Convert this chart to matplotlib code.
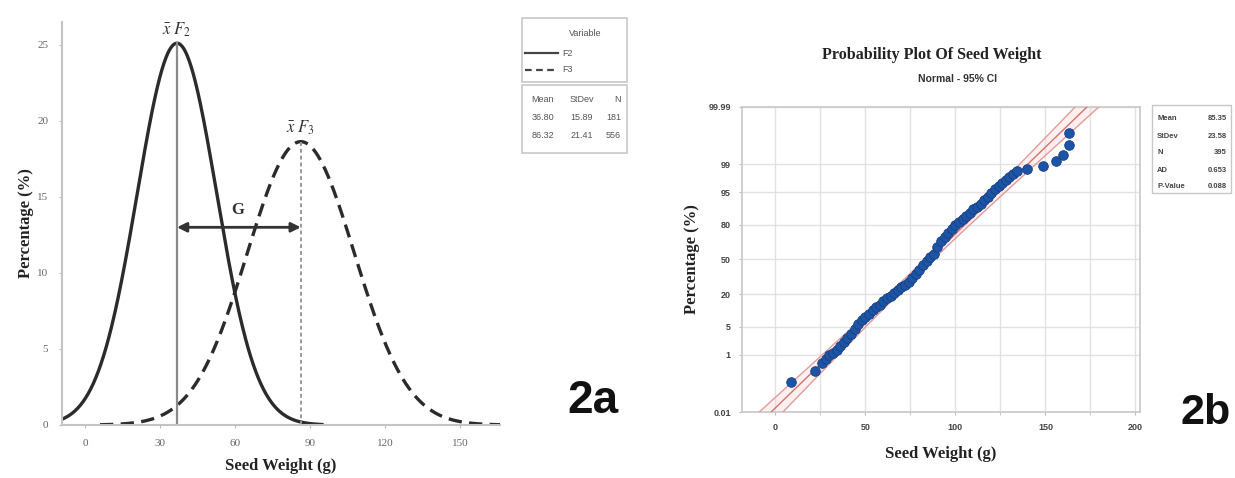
import numpy as np
import matplotlib
matplotlib.use("Agg")
import matplotlib.pyplot as plt
from matplotlib.patches import Rectangle
from matplotlib.lines import Line2D
from statistics import NormalDist

# ---------------- data: panel 2a (fitted normal curves) ----------------
group_labels = ["F2", "F3"]
group_means = [36.80, 86.32]
group_sds = [15.89, 21.41]
group_n = [181, 556]
hist_bin_width = 10            # Minitab "percent" scaling of fitted curves
f2_curve_range = (-9.2, 95.0)
f3_curve_range = (6.0, 167.0)
xticks_a = [0, 30, 60, 90, 120, 150]
yticks_a = [0, 5, 10, 15, 20, 25]

# ---------------- data: panel 2b (normal probability plot) ----------------
pp_weight = [8.7, 22.2, 26, 28, 30, 32, 34, 36, 38, 40, 42, 44, 46, 48, 50, 52, 54,
             56, 58, 60, 62, 64, 66, 68, 70, 72, 74, 76, 78, 80, 82, 84, 86, 88,
             90, 92, 94, 96, 98, 100, 102, 104, 106, 108, 110, 112, 114, 116, 118,
             120, 122, 124, 126, 128, 130, 132, 134, 139.8, 148.7, 156, 159.6, 163, 163.3]
pp_percent = [0.14, 0.32, 0.60, 0.78, 0.99, 1.16, 1.39, 1.70, 2.17, 2.74, 3.44, 4.46,
              5.71, 6.94, 8.08, 9.34, 10.75, 12.10, 13.57, 15.39, 17.11, 18.67, 20.61,
              22.66, 24.83, 27.09, 29.46, 32.64, 35.94, 40.13, 44.43, 48.40, 51.99,
              55.57, 61.79, 67.36, 70.88, 74.22, 77.04, 79.67, 81.86, 83.65, 85.54,
              87.29, 88.88, 90.15, 91.31, 92.51, 93.70, 94.74, 95.64, 96.33, 96.86,
              97.32, 97.78, 98.17, 98.46, 98.64, 98.90, 99.16, 99.46, 99.74, 99.90]
pp_mean = 85.35
pp_sd = 23.58
pp_n = 395
pp_ad = 0.653
pp_pvalue = 0.088
xticks_b = [0, 50, 100, 150, 200]
xgrid_b = [0, 25, 50, 75, 100, 125, 150, 175, 200]
yticks_b = [0.01, 1, 5, 20, 50, 80, 95, 99, 99.99]
ytick_labels_b = ["0.01", "1", "5", "20", "50", "80", "95", "99", "99.99"]

# ---------------- figure ----------------
W, H = 1235, 478
fig = plt.figure(figsize=(W / 100, H / 100), dpi=100)
plt.rcParams["mathtext.fontset"] = "stix"
SERIF = "Liberation Serif"
SANS = "Liberation Sans"


def fx(px):
    return px / W


def fy(py):
    return 1 - py / H


def npdf(x, m, s):
    return np.exp(-0.5 * ((x - m) / s) ** 2) / (s * np.sqrt(2 * np.pi))


# ================= Panel 2a =================
axa = fig.add_axes([fx(62), fy(425), fx(500) - fx(62), fy(22) - fy(425)])
scale = 100 * hist_bin_width
x2 = np.linspace(*f2_curve_range, 400)
x3 = np.linspace(*f3_curve_range, 400)
axa.plot(x2, scale * npdf(x2, group_means[0], group_sds[0]), color="#2b2b2b", lw=2.4,
         solid_capstyle="round")
axa.plot(x3, scale * npdf(x3, group_means[1], group_sds[1]), color="#2b2b2b", lw=2.4,
         ls=(0, (4, 2.2)))
peak2 = scale * npdf(group_means[0], group_means[0], group_sds[0])
peak3 = scale * npdf(group_means[1], group_means[1], group_sds[1])
axa.plot([group_means[0]] * 2, [0, peak2], color="#8a8a8a", lw=1.6)
axa.plot([group_means[1]] * 2, [0, peak3], color="#9a9a9a", lw=1.4, ls=(0, (2, 1.5)))
axa.annotate("", xy=(group_means[0], 13.0), xytext=(group_means[1], 13.0),
             arrowprops=dict(arrowstyle="<|-|>", color="#333333", lw=2.0,
                             mutation_scale=14, shrinkA=0, shrinkB=0))
axa.text((group_means[0] + group_means[1]) / 2 - 0.5, 13.6, "G", ha="center", va="bottom",
         fontsize=12, fontweight="bold", family=SERIF, color="#333333")
axa.text(group_means[0], peak2 + 0.3, r"$\bar{x}\ F_2$", ha="center", va="bottom",
         fontsize=12, color="#333333")
axa.text(group_means[1], peak3 + 0.3, r"$\bar{x}\ F_3$", ha="center", va="bottom",
         fontsize=12, color="#333333")
axa.set_xlim(-9.2, 166)
axa.set_ylim(0, 26.5)
axa.set_xticks(xticks_a)
axa.set_yticks(yticks_a)
axa.set_xticklabels([str(v) for v in xticks_a], family=SERIF, fontsize=8, color="#666666")
axa.set_yticklabels([str(v) for v in yticks_a], family=SERIF, fontsize=8, color="#666666")
axa.tick_params(length=2, color="#bbbbbb", pad=8)
for s in ["top", "right"]:
    axa.spines[s].set_visible(False)
for s in ["left", "bottom"]:
    axa.spines[s].set_color("#c4c4c4")
    axa.spines[s].set_linewidth(1.5)
axa.set_xlabel("Seed Weight (g)", family=SERIF, fontsize=12, fontweight="bold",
               color="#222222", labelpad=7)
axa.set_ylabel("Percentage (%)", family=SERIF, fontsize=12, fontweight="bold",
               color="#222222", labelpad=2)

# legend box 2a
fig.patches.append(Rectangle((fx(522), fy(82)), fx(627) - fx(522), fy(18) - fy(82),
                             transform=fig.transFigure, fill=False, ec="#c8c8c8", lw=1.2))
fig.patches.append(Rectangle((fx(522), fy(153)), fx(627) - fx(522), fy(85) - fy(153),
                             transform=fig.transFigure, fill=False, ec="#c8c8c8", lw=1.2))
fig.text(fx(585), fy(33), "Variable", ha="center", va="center", fontsize=6.5,
         family=SANS, color="#555555")
for i, (lab, ls) in enumerate(zip(group_labels, ["-", (0, (3, 2))])):
    yy = fy(53 + 17 * i)
    fig.add_artist(Line2D([fx(525), fx(558)], [yy, yy], color="#444444", lw=1.6, ls=ls,
                          transform=fig.transFigure))
    fig.text(fx(562), yy, lab, ha="left", va="center", fontsize=6.5, family=SANS,
             color="#555555")
fig.text(fx(543), fy(99), "Mean", ha="center", va="center", fontsize=6.5, family=SANS,
         color="#555555")
fig.text(fx(582), fy(99), "StDev", ha="center", va="center", fontsize=6.5, family=SANS,
         color="#555555")
fig.text(fx(621), fy(99), "N", ha="right", va="center", fontsize=6.5, family=SANS,
         color="#555555")
for i in range(2):
    yy = fy(117 + 18 * i)
    fig.text(fx(543), yy, f"{group_means[i]:.2f}", ha="center", va="center", fontsize=6.5,
             family=SANS, color="#555555")
    fig.text(fx(582), yy, f"{group_sds[i]:.2f}", ha="center", va="center", fontsize=6.5,
             family=SANS, color="#555555")
    fig.text(fx(621), yy, f"{group_n[i]}", ha="right", va="center", fontsize=6.5,
             family=SANS, color="#555555")

fig.text(fx(593), fy(401), "2a", ha="center", va="center", fontsize=33, fontweight="bold",
         family=SANS, color="#111111")

# ================= Panel 2b =================
nd = NormalDist()
_probit = np.vectorize(lambda v: nd.inv_cdf(v / 100.0), otypes=[float])
_cdf = np.vectorize(lambda v: nd.cdf(v) * 100.0, otypes=[float])


def fwd(p):
    p = np.clip(np.asarray(p, dtype=float), 1e-7, 100 - 1e-7)
    return _probit(p)


def inv(z):
    return _cdf(np.asarray(z, dtype=float))


axb = fig.add_axes([fx(742), fy(412), fx(1140) - fx(742), fy(107) - fy(412)])
axb.set_yscale("function", functions=(fwd, inv))
axb.set_ylim(0.01, 99.99)
axb.set_xlim(-18.5, 202.5)

z = np.linspace(-4.2, 4.2, 300)
pz = inv(z)
fit_x = pp_mean + pp_sd * z
half = 1.96 * pp_sd * np.sqrt(1.0 / pp_n + z ** 2 / (2.0 * (pp_n - 1)))
axb.fill_betweenx(pz, fit_x - half, fit_x + half, color="#f6d6d6", alpha=0.35, lw=0)
axb.plot(fit_x, pz, color="#d96f6f", lw=1.0, zorder=3)
axb.plot(fit_x - half, pz, color="#e59a9a", lw=1.0, zorder=3)
axb.plot(fit_x + half, pz, color="#e59a9a", lw=1.0, zorder=3)
axb.scatter(pp_weight, pp_percent, s=48, color="#1d55a6", edgecolor="#163f82", lw=0.6,
            zorder=4)

axb.set_xticks(xticks_b)
axb.set_xticks([v for v in xgrid_b if v not in xticks_b], minor=True)
axb.set_yticks(yticks_b)
axb.set_yticks([], minor=True)
axb.set_xticklabels([str(v) for v in xticks_b], fontsize=6.5, family=SANS,
                    fontweight="bold", color="#444444")
axb.set_yticklabels(ytick_labels_b, fontsize=6.5, family=SANS, fontweight="bold",
                    color="#444444")
axb.grid(True, which="both", color="#e2e2e2", lw=1.0)
axb.set_axisbelow(True)
axb.tick_params(which="both", length=2, color="#bbbbbb", pad=6)
for s in axb.spines.values():
    s.set_color("#cccccc")
    s.set_linewidth(1.3)
axb.set_xlabel("Seed Weight (g)", family=SERIF, fontsize=12, fontweight="bold",
               color="#222222", labelpad=10)
axb.set_ylabel("Percentage (%)", family=SERIF, fontsize=12, fontweight="bold",
               color="#222222", labelpad=6)

fig.text(fx(932), fy(55), "Probability Plot Of Seed Weight", ha="center", va="center",
         fontsize=11.5, fontweight="bold", family=SERIF, color="#222222")
fig.text(fx(957), fy(79), "Normal - 95% CI", ha="center", va="center",
         fontsize=7.5, fontweight="bold", family=SANS, color="#333333")

# stats box 2b
fig.patches.append(Rectangle((fx(1152), fy(193)), fx(1231) - fx(1152), fy(105) - fy(193),
                             transform=fig.transFigure, fill=False, ec="#c8c8c8", lw=1.0))
stat_labels = ["Mean", "StDev", "N", "AD", "P-Value"]
stat_values = [f"{pp_mean:.2f}", f"{pp_sd:.2f}", f"{pp_n}", f"{pp_ad:.3f}",
               f"{pp_pvalue:.3f}"]
for i, (lab, val) in enumerate(zip(stat_labels, stat_values)):
    yy = fy(119 + 17 * i)
    fig.text(fx(1157), yy, lab, ha="left", va="center", fontsize=5.5, family=SANS,
             fontweight="bold", color="#444444")
    fig.text(fx(1227), yy, val, ha="right", va="center", fontsize=5.5, family=SANS,
             fontweight="bold", color="#444444")

fig.text(fx(1206), fy(413), "2b", ha="center", va="center", fontsize=31, fontweight="bold",
         family=SANS, color="#111111")

fig.savefig("out.png", dpi=100, facecolor="white")
